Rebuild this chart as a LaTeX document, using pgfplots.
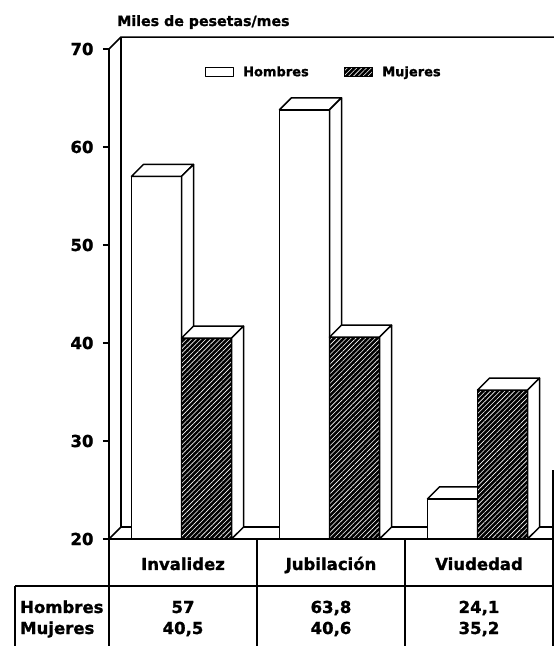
\documentclass[border=0pt]{standalone}
\usepackage{fontspec}
\setmainfont{DejaVu Sans}[BoldFeatures={FakeBold=1.2}]
\usepackage{pgfplots}
\pgfplotsset{compat=1.18}
\usetikzlibrary{patterns.meta}

% hatched face of the Mujeres bars
\tikzset{hatch/.style={fill=black,
    postaction={pattern={Lines[angle=45,distance=3.4pt,line width=0.6pt]},pattern color=white}}}
\newcommand{\tfont}{\fontsize{16.5}{18}\selectfont\bfseries}

\begin{document}
\begin{tikzpicture}
\path[use as bounding box, clip] (0,0) rectangle (554pt,646pt);

\begin{axis}[
    at={(109pt,107pt)}, anchor=south west,
    scale only axis,
    width=444pt, height=490pt,
    xmin=0, xmax=3,
    ymin=20, ymax=70,
    clip=false,
    axis y line*=left, axis x line*=bottom,
    axis line style={-, line width=1.5pt},
    xtick=\empty,
    ytick={20,30,...,70},
    tick align=outside,
    major tick length=6pt,
    tick style={line width=1.5pt, black},
    yticklabel style={font=\tfont, xshift=-6pt},
    /pgf/number format/assume math mode=true,
    every axis plot/.append style={line width=1.5pt, line join=round, black, mark=none},
    legend columns=2,
    legend style={draw=none, fill=none, inner sep=0pt,
        font=\fontsize{13}{14}\selectfont\bfseries,
        at={(axis cs:0.645,67.65)}, anchor=west,
        /tikz/every even column/.append style={column sep=33pt}},
    legend image code/.code={\draw[#1] (0pt,-4.5pt) rectangle (28pt,4.5pt); \path (35pt,0pt);},
]
% back wall and floor
\draw[line width=1.5pt] (axis cs:0,70) -- (axis cs:0.081,71.22) -- (axis cs:3.081,71.22);
\draw[line width=1.5pt] (axis cs:0.081,71.22) -- (axis cs:0.081,21.22) -- (axis cs:3.081,21.22);
\draw[line width=1.5pt] (axis cs:0,20) -- (axis cs:0.081,21.22);
\draw[line width=1.5pt] (axis cs:3,27) -- (axis cs:3,20);

% Invalidez
\addplot[fill=white] coordinates {(0.152,20) (0.152,57) (0.490,57) (0.490,20)} -- cycle;
\addlegendentry{Hombres}
\addplot[fill=white, forget plot] coordinates {(0.152,57) (0.233,58.22) (0.571,58.22) (0.490,57)} -- cycle;
\addplot[fill=white, forget plot] coordinates {(0.490,20) (0.490,57) (0.571,58.22) (0.571,21.22)} -- cycle;
\addplot[hatch] coordinates {(0.490,20) (0.490,40.5) (0.828,40.5) (0.828,20)} -- cycle;
\addlegendentry{Mujeres}
\addplot[fill=white, forget plot] coordinates {(0.490,40.5) (0.571,41.72) (0.909,41.72) (0.828,40.5)} -- cycle;
\addplot[fill=white, forget plot] coordinates {(0.828,20) (0.828,40.5) (0.909,41.72) (0.909,21.22)} -- cycle;

% Jubilacion
\addplot[fill=white, forget plot] coordinates {(1.152,20) (1.152,63.8) (1.490,63.8) (1.490,20)} -- cycle;
\addplot[fill=white, forget plot] coordinates {(1.152,63.8) (1.233,65.02) (1.571,65.02) (1.490,63.8)} -- cycle;
\addplot[fill=white, forget plot] coordinates {(1.490,20) (1.490,63.8) (1.571,65.02) (1.571,21.22)} -- cycle;
\addplot[hatch, forget plot] coordinates {(1.490,20) (1.490,40.6) (1.828,40.6) (1.828,20)} -- cycle;
\addplot[fill=white, forget plot] coordinates {(1.490,40.6) (1.571,41.82) (1.909,41.82) (1.828,40.6)} -- cycle;
\addplot[fill=white, forget plot] coordinates {(1.828,20) (1.828,40.6) (1.909,41.82) (1.909,21.22)} -- cycle;

% Viudedad
\addplot[fill=white, forget plot] coordinates {(2.152,20) (2.152,24.1) (2.490,24.1) (2.490,20)} -- cycle;
\addplot[fill=white, forget plot] coordinates {(2.152,24.1) (2.233,25.32) (2.571,25.32) (2.490,24.1)} -- cycle;
\addplot[fill=white, forget plot] coordinates {(2.490,20) (2.490,24.1) (2.571,25.32) (2.571,21.22)} -- cycle;
\addplot[hatch, forget plot] coordinates {(2.490,20) (2.490,35.2) (2.828,35.2) (2.828,20)} -- cycle;
\addplot[fill=white, forget plot] coordinates {(2.490,35.2) (2.571,36.42) (2.909,36.42) (2.828,35.2)} -- cycle;
\addplot[fill=white, forget plot] coordinates {(2.828,20) (2.828,35.2) (2.909,36.42) (2.909,21.22)} -- cycle;
\end{axis}

% title
\node[anchor=base west, inner sep=0pt, font=\fontsize{14.2}{16}\selectfont\bfseries]
    at (117pt,620pt) {Miles de pesetas/mes};

% data table
\begin{scope}[line width=1.5pt]
\draw (15pt,60pt) -- (554pt,60pt);
\draw (15pt,60pt) -- (15pt,0pt);
\foreach \x in {109,257,405,553} \draw (\x pt,107pt) -- (\x pt,0pt);
\end{scope}
\begin{scope}[every node/.style={font=\tfont, inner sep=0pt}]
\node[anchor=base] at (183pt,76pt) {Invalidez};
\node[anchor=base] at (331pt,76pt) {Jubilación};
\node[anchor=base] at (479pt,76pt) {Viudedad};
\node[anchor=base west] at (20pt,33pt) {Hombres};
\node[anchor=base west] at (20pt,12pt) {Mujeres};
\node[anchor=base] at (183pt,33pt) {57};
\node[anchor=base] at (331pt,33pt) {63,8};
\node[anchor=base] at (479pt,33pt) {24,1};
\node[anchor=base] at (183pt,12pt) {40,5};
\node[anchor=base] at (331pt,12pt) {40,6};
\node[anchor=base] at (479pt,12pt) {35,2};
\end{scope}
\end{tikzpicture}
\end{document}
